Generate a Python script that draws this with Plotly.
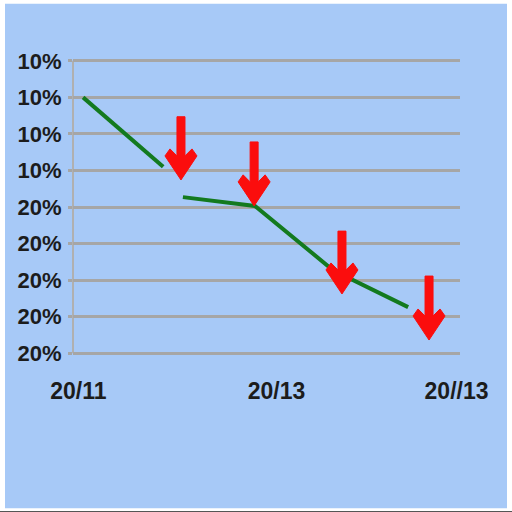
import plotly.graph_objects as go

# ---- data ----
y_tick_vals = [0, 1, 2, 3, 4, 5, 6, 7, 8]
y_tick_text = ["20%", "20%", "20%", "20%", "20%", "10%", "10%", "10%", "10%"]
x_tick_vals = [1.4, 52.6, 99.1]
x_tick_text = ["20/11", "20/13", "20//13"]

line_x = [2.6, 23.3, None, 28.4, 47.0, 67.2, 86.6]
line_y = [7.0, 5.1, None, 4.27, 4.03, 2.27, 1.26]

arrow_x = [27.9, 46.8, 69.5, 92.0]
arrow_top_y = [6.47, 5.78, 3.34, 2.11]
arrow_tip_y = [4.74, 4.03, 1.62, 0.36]

# ---- layout geometry ----
W, H = 512, 512
PAD = 0.05
XR = [0, 100]
YR = [0 - PAD, 8 + PAD]
X0PX, X1PX = 73, 460          # pixel span of x range
G0PX, G8PX = 353, 61          # pixel rows of gridlines 0 and 8
sy = (G0PX - G8PX) / 8
L, R = X0PX, W - X1PX
T = G8PX - PAD * sy
B = H - G0PX - PAD * sy
pw, ph = W - L - R, H - T - B
sx = pw / (XR[1] - XR[0])

BLUE = "#a7c9f7"
GRID = "#a6a6a6"
TXT = "#1c1c1c"
GREEN = "#137a1f"
RED = "#fb0d0d"

fig = go.Figure()

fig.add_trace(go.Scatter(x=line_x, y=line_y, mode="lines",
                         line=dict(color=GREEN, width=4), connectgaps=False,
                         hoverinfo="skip", showlegend=False))

# arrow outline in pixel offsets relative to tip (y up positive)
head = [(-4, None), (4, None), (4, 24), (11, 31), (16, 24), (0, 0),
        (-16, 24), (-11, 31), (-4, 24)]
for ax_, top, tip in zip(arrow_x, arrow_top_y, arrow_tip_y):
    xs, ys = [], []
    for dx, dy in head:
        xs.append(ax_ + dx / sx)
        ys.append(top if dy is None else tip + dy / sy)
    xs.append(xs[0]); ys.append(ys[0])
    fig.add_trace(go.Scatter(x=xs, y=ys, mode="lines", fill="toself",
                             fillcolor=RED, line=dict(color=RED, width=1),
                             hoverinfo="skip", showlegend=False))

def px2paper_x(p):
    return (p - L) / pw

def px2paper_y(p):
    return (H - B - p) / ph

shapes = [
    dict(type="rect", xref="paper", yref="paper", layer="below",
         x0=px2paper_x(5), x1=px2paper_x(507), y0=px2paper_y(508), y1=px2paper_y(4),
         fillcolor=BLUE, line=dict(width=0)),
    dict(type="line", xref="paper", yref="paper", layer="below",
         x0=px2paper_x(0), x1=px2paper_x(512), y0=px2paper_y(511.5), y1=px2paper_y(511.5),
         line=dict(color="#555555", width=1.5)),
]

fig.update_layout(
    width=W, height=H,
    margin=dict(l=L, r=R, t=T, b=B, pad=0),
    paper_bgcolor="white", plot_bgcolor="rgba(0,0,0,0)",
    shapes=shapes,
    font=dict(family="Liberation Sans, Arial, sans-serif", color=TXT),
    xaxis=dict(range=XR, tickvals=x_tick_vals, ticktext=x_tick_text,
               showgrid=False, zeroline=False, showline=False, ticks="",
               tickfont=dict(size=23, family="Liberation Sans, Arial", weight="bold", color=TXT),
               ticklabelstandoff=int(round(18 + PAD * sy)), fixedrange=True),
    yaxis=dict(range=YR, tickvals=y_tick_vals, ticktext=y_tick_text,
               showgrid=True, gridcolor=GRID, gridwidth=3, zeroline=False,
               showline=False, ticks="outside", ticklen=4, tickwidth=3, tickcolor=GRID,
               tickfont=dict(size=22, family="Liberation Sans, Arial", weight="bold", color=TXT),
               ticklabelstandoff=2, fixedrange=True),
)

# vertical axis line between the outer gridlines
fig.add_shape(type="line", xref="paper", yref="y", x0=0, x1=0, y0=0, y1=8,
              line=dict(color="#b0b0b0", width=2), layer="below")

fig.write_html("out.html", config=dict(displayModeBar=False),
               post_script="document.body.style.margin='0';")
